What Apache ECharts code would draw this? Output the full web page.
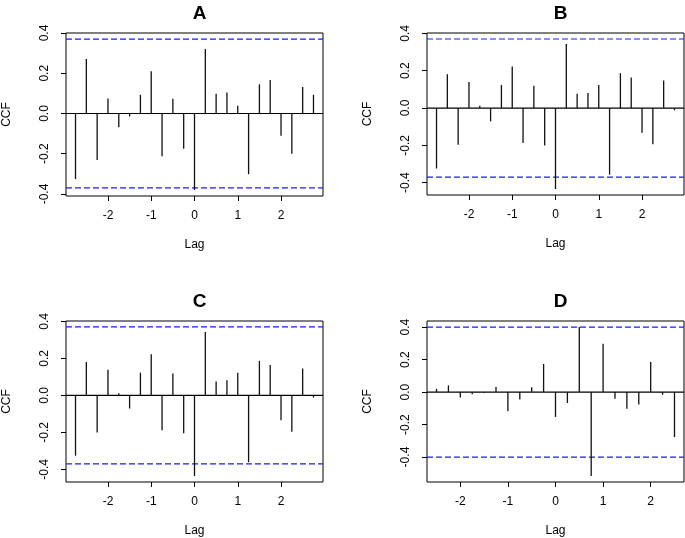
<!DOCTYPE html>
<html>
<head>
<meta charset="utf-8">
<script src="https://cdn.jsdelivr.net/npm/echarts@6/dist/echarts.min.js"></script>
<style>
html,body{margin:0;padding:0;background:#fff;}
#chart{width:685px;height:538px;}
</style>
</head>
<body>
<div id="chart"></div>
<script>
// ---- data ----
const lagsABC = [-2.75,-2.5,-2.25,-2.0,-1.75,-1.5,-1.25,-1.0,-0.75,-0.5,-0.25,0,0.25,0.5,0.75,1.0,1.25,1.5,1.75,2.0,2.25,2.5,2.75];
const lagsD = [-2.5,-2.25,-2.0,-1.75,-1.5,-1.25,-1.0,-0.75,-0.5,-0.25,0,0.25,0.5,0.75,1.0,1.25,1.5,1.75,2.0,2.25,2.5];
const ccfA = [-0.326,0.271,-0.231,0.074,-0.068,-0.015,0.093,0.210,-0.213,0.073,-0.175,-0.380,0.321,0.098,0.104,0.038,-0.302,0.145,0.167,-0.111,-0.200,0.132,0.093];
const ccfB = [-0.324,0.181,-0.197,0.139,0.012,-0.071,0.123,0.222,-0.187,0.119,-0.201,-0.434,0.343,0.076,0.080,0.124,-0.357,0.187,0.164,-0.133,-0.194,0.148,-0.012];
const ccfC = [-0.326,0.180,-0.200,0.139,0.012,-0.071,0.123,0.223,-0.189,0.118,-0.204,-0.436,0.343,0.075,0.082,0.123,-0.361,0.187,0.164,-0.134,-0.196,0.146,-0.012];
const ccfD = [0.020,0.041,-0.033,-0.014,-0.006,0.031,-0.118,-0.045,0.029,0.173,-0.153,-0.067,0.401,-0.517,0.297,-0.041,-0.102,-0.077,0.185,-0.016,-0.277];
const ciA = 0.37, ciB = 0.37, ciC = 0.37, ciD = 0.40;
const panelTitles = ['A','B','C','D'];
const yTickVals = [-0.4,-0.2,0.0,0.2,0.4];
const xTickVals = [-2,-1,0,1,2];

// ---- layout ----
const panels = [
  {title: panelTitles[0], lags: lagsABC, vals: ccfA, ci: ciA, grid: {left: 66, top: 33, width: 257, height: 163}},
  {title: panelTitles[1], lags: lagsABC, vals: ccfB, ci: ciB, grid: {left: 427, top: 33, width: 257, height: 162}},
  {title: panelTitles[2], lags: lagsABC, vals: ccfC, ci: ciC, grid: {left: 66, top: 321, width: 257, height: 162}},
  {title: panelTitles[3], lags: lagsD, vals: ccfD, ci: ciD, grid: {left: 427, top: 321, width: 257, height: 162}}
];

const FONT = 'Liberation Sans, Arial, sans-serif';
function ext(lo, hi){ const d = (hi - lo) * 0.04; return [lo - d, hi + d]; }

const option = {
  backgroundColor: '#fff',
  animation: false,
  title: [], grid: [], xAxis: [], yAxis: [], series: []
};

panels.forEach((p, i) => {
  const xr = ext(Math.min(...p.lags), Math.max(...p.lags));
  const yr = ext(Math.min(...p.vals, -p.ci), Math.max(...p.vals, p.ci));
  option.title.push({
    text: p.title,
    left: p.grid.left + p.grid.width / 2,
    top: p.grid.top - 34,
    textAlign: 'center',
    textStyle: {fontFamily: FONT, fontWeight: 'bold', fontSize: 19, color: '#000'}
  });
  option.grid.push(Object.assign({show: true, borderColor: '#000', borderWidth: 1, backgroundColor: 'transparent'}, p.grid));
  option.xAxis.push({
    type: 'value', gridIndex: i, min: xr[0], max: xr[1], position: 'bottom',
    name: 'Lag', nameLocation: 'middle', nameGap: 43,
    nameTextStyle: {fontFamily: FONT, fontSize: 12, color: '#000'},
    axisLine: {show: false, onZero: false},
    axisTick: {show: true, length: 5, inside: false, customValues: xTickVals, lineStyle: {color: '#000'}},
    axisLabel: {customValues: xTickVals, margin: 14, fontFamily: FONT, fontSize: 12, color: '#000'},
    splitLine: {show: false}
  });
  option.yAxis.push({
    type: 'value', gridIndex: i, min: yr[0], max: yr[1], position: 'left',
    name: 'CCF', nameLocation: 'middle', nameGap: 53, nameRotate: 90,
    nameTextStyle: {fontFamily: FONT, fontSize: 12, color: '#000'},
    axisLine: {show: false, onZero: false},
    axisTick: {show: true, length: 5, inside: false, customValues: yTickVals, lineStyle: {color: '#000'}},
    axisLabel: {customValues: yTickVals, rotate: 90, margin: 15, fontFamily: FONT, fontSize: 12, color: '#000',
      formatter: v => v.toFixed(1)},
    splitLine: {show: false}
  });
  // zero line
  option.series.push({
    type: 'line', xAxisIndex: i, yAxisIndex: i, silent: true, showSymbol: false, symbol: 'none',
    data: [[xr[0], 0], [xr[1], 0]], lineStyle: {color: '#000', width: 1.2}, z: 2
  });
  // CI lines
  [p.ci, -p.ci].forEach(c => {
    option.series.push({
      type: 'line', xAxisIndex: i, yAxisIndex: i, silent: true, showSymbol: false, symbol: 'none',
      data: [[xr[0], c], [xr[1], c]], lineStyle: {color: '#1a1aff', width: 1.2, type: [6, 3]}, z: 3
    });
  });
  // spikes
  option.series.push({
    type: 'custom', xAxisIndex: i, yAxisIndex: i, silent: true,
    data: p.lags.map((l, k) => [l, p.vals[k]]),
    encode: {x: 0, y: 1},
    renderItem: function(params, api){
      const x = api.value(0), v = api.value(1);
      const a = api.coord([x, 0]), b = api.coord([x, v]);
      return {type: 'line', shape: {x1: a[0], y1: a[1], x2: b[0], y2: b[1]},
        style: {stroke: '#111', lineWidth: 1.3}};
    },
    z: 4
  });
});

const chart = echarts.init(document.getElementById('chart'), null, {renderer: 'canvas'});
chart.setOption(option);
</script>
</body>
</html>
